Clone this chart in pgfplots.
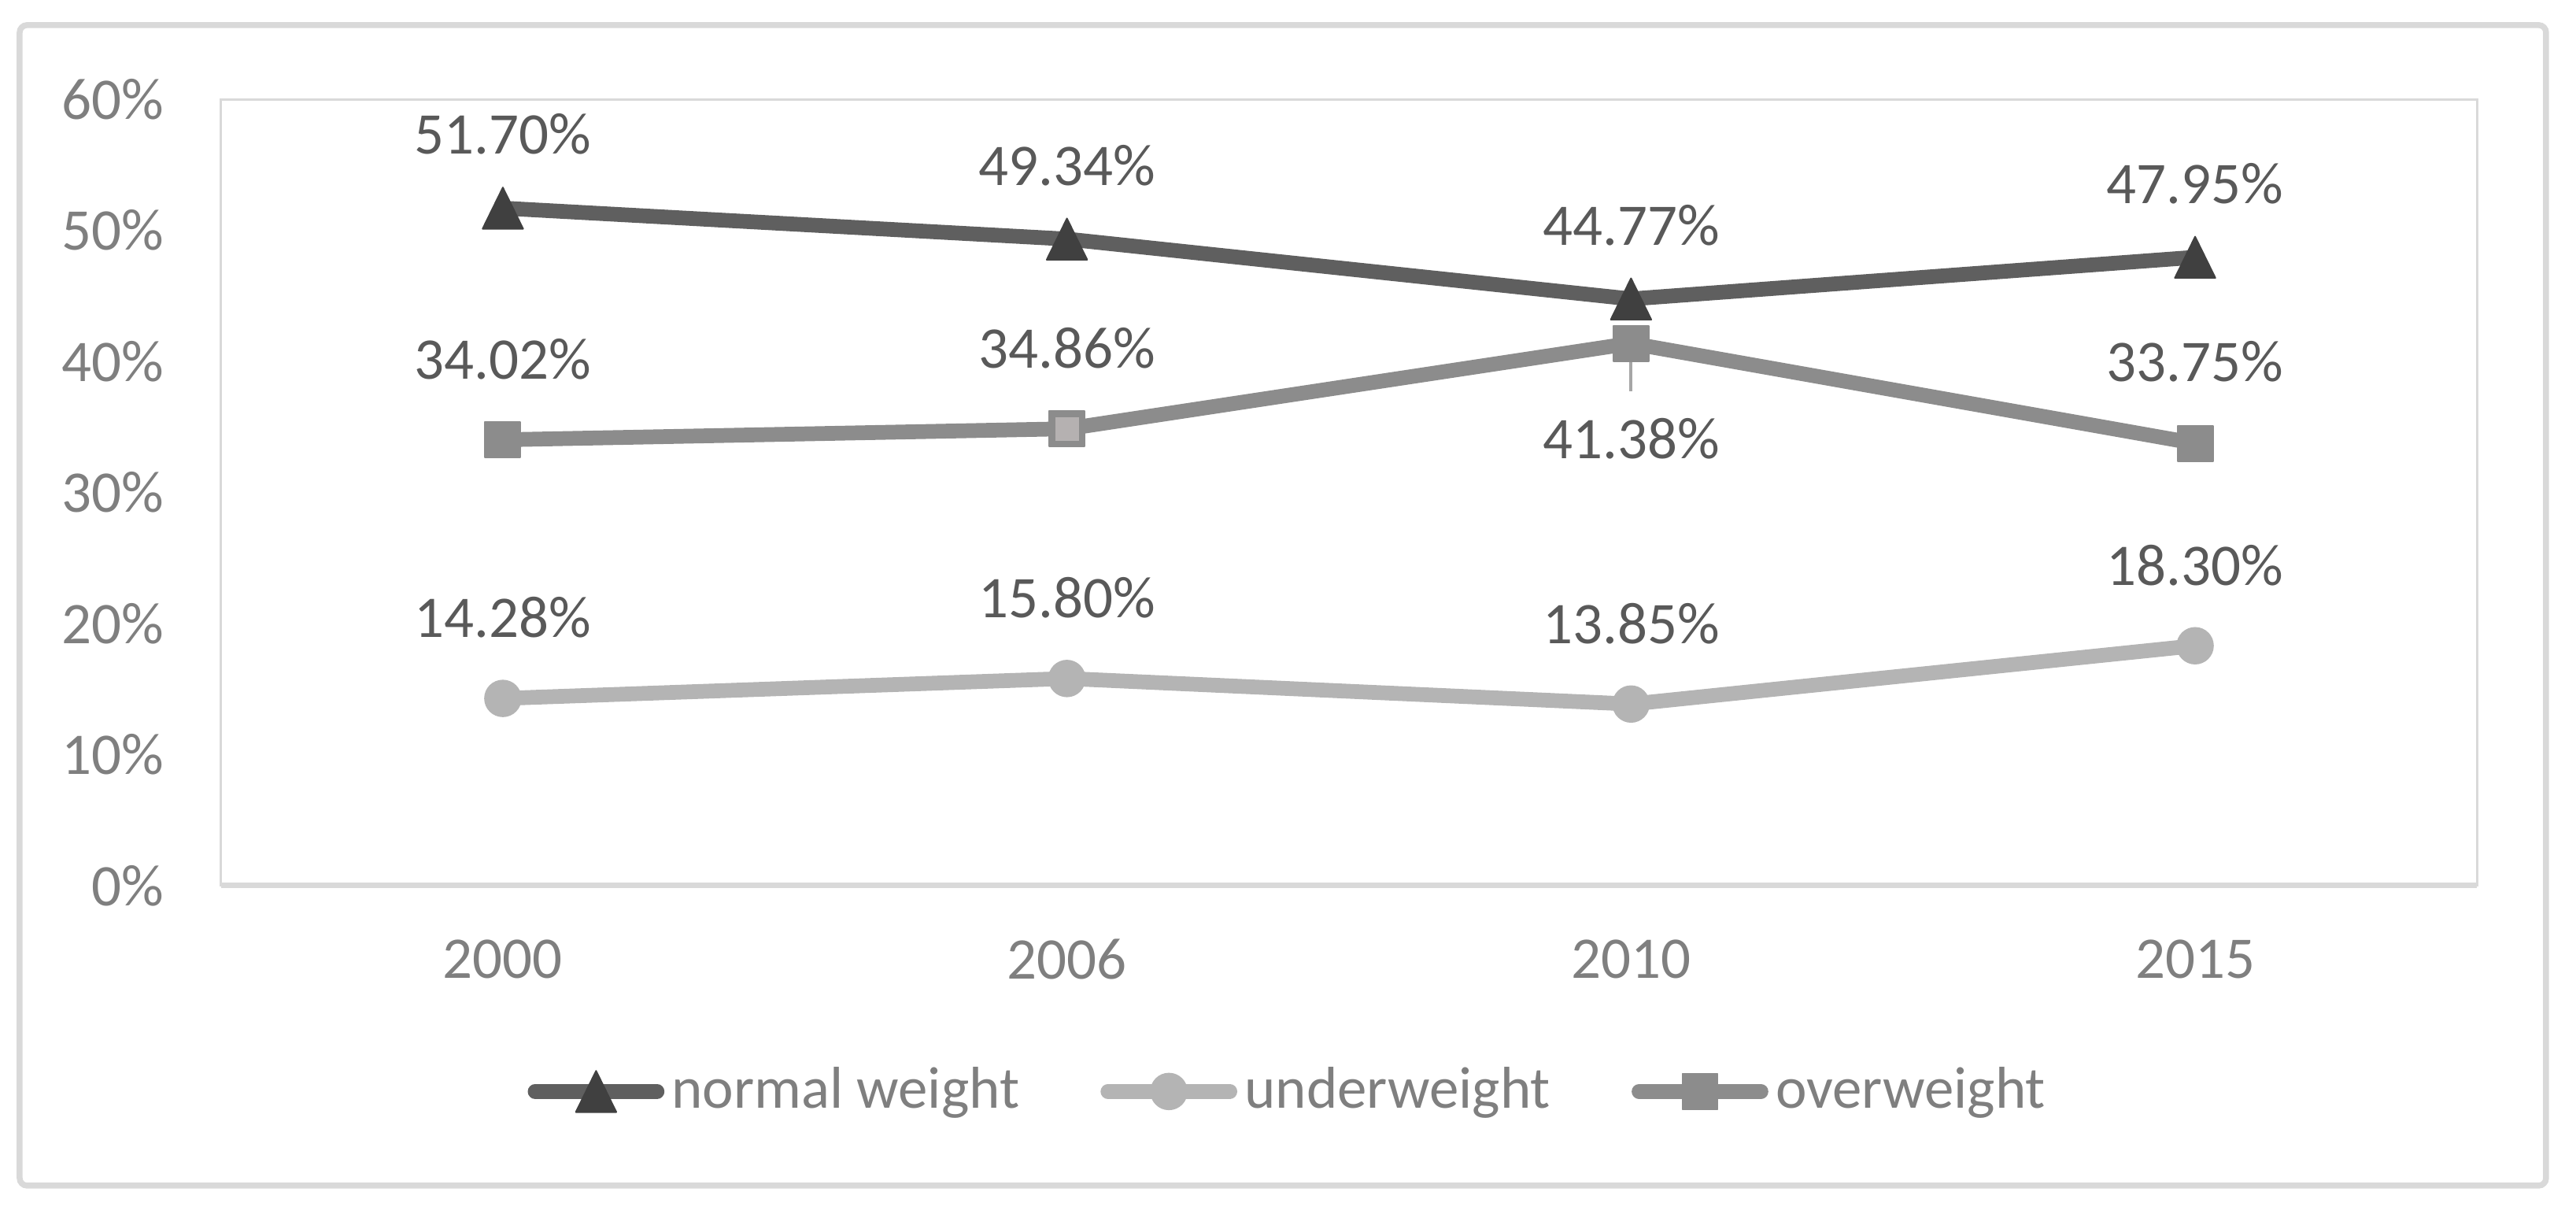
\documentclass[border=0pt]{standalone}
\usepackage{fontspec}
\setmainfont{Carlito}
\usepackage{pgfplots}
\usepackage{pgfplotstable}
\pgfplotsset{compat=1.18}

\definecolor{normc}{HTML}{5F5F5F}
\definecolor{normm}{HTML}{404040}
\definecolor{underc}{HTML}{B4B4B4}
\definecolor{overc}{HTML}{8C8C8C}
\definecolor{sqlight}{HTML}{B5B1B1}
\definecolor{lbl}{HTML}{595959}
\definecolor{tickc}{HTML}{7F7F7F}
\definecolor{frame}{HTML}{D9D9D9}
\definecolor{leader}{HTML}{A6A6A6}

% x = category index (2000, 2006, 2010, 2015), off = label shift in pt
\pgfplotstableread{
x y off
0 51.70 16.4
1 49.34 16.4
2 44.77 16.4
3 47.95 16.4
}\normaltab
\pgfplotstableread{
x y off
0 14.28 16.4
1 15.80 16.4
2 13.85 16.4
3 18.30 16.4
}\undertab
\pgfplotstableread{
x y off
0 34.02 16.4
1 34.86 16.4
2 41.38 -19.4
3 33.75 16.6
}\overtab

\pgfplotsset{
    /pgf/number format/assume math mode=true,
    labelled/.style={
        nodes near coords={\pgfmathprintnumber[fixed,fixed zerofill,precision=2]{\pgfplotspointmeta}\%},
        visualization depends on={\thisrow{off}\as\laboff},
        nodes near coords style={font=\fontsize{12}{14}\selectfont, text=lbl, anchor=center, yshift=\laboff pt},
    },
}

\begin{document}
\begin{tikzpicture}
\useasboundingbox (-44.9pt,-66.7pt) rectangle (478.9pt,180.0pt);
\draw[frame, line width=1.2pt, rounded corners=1.5pt] (-40.9pt,-61.0pt) rectangle (472.8pt,174.9pt);
\begin{axis}[
    at={(0pt,0pt)}, anchor=south west,
    scale only axis,
    width=458.8pt, height=159.8pt,
    xmin=-0.5, xmax=3.5,
    ymin=0, ymax=60,
    xtick={0,1,2,3},
    xticklabels={2000,2006,2010,2015},
    ytick={0,10,...,60},
    yticklabel={\pgfmathprintnumber{\tick}\%},
    major tick length=0pt,
    axis line style={frame, line width=0.5pt},
    clip=false,
    font=\fontsize{12}{14}\selectfont,
    tick label style={font=\fontsize{12}{14}\selectfont, text=tickc},
    yticklabel style={anchor=east, inner sep=0pt, xshift=-11.4pt},
    xticklabel style={anchor=center, yshift=-15pt},
    legend columns=3,
    legend style={at={(0.474,-0.262)}, anchor=center, draw=none, fill=none,
        font=\fontsize{12}{14}\selectfont, text=tickc,
        nodes={inner xsep=1.5pt},
        /tikz/every even column/.append style={column sep=15pt}},
    legend image code/.code={
        \draw[mark repeat=2, mark phase=2, #1] plot coordinates {(0pt,0pt) (12.4pt,0pt) (24.8pt,0pt)};
    },
]
\draw[frame, line width=1.1pt] (axis description cs:0,0) -- (axis description cs:1,0);

\addplot[normc, line width=3pt, line cap=round, line join=round, labelled,
    mark=triangle*, mark size=5.6pt,
    mark options={draw=normm, fill=normm, line width=0.3pt, xscale=0.85, yshift=-1.4pt}]
    table[x=x, y=y] {\normaltab};
\addlegendentry{normal weight}

\addplot[underc, line width=3pt, line cap=round, line join=round, labelled,
    mark=*, mark size=3.65pt,
    mark options={draw=underc, fill=underc, line width=0.3pt}]
    table[x=x, y=y] {\undertab};
\addlegendentry{underweight}

\addplot[overc, line width=3pt, line cap=round, line join=round, labelled,
    mark=square*, mark size=3.6pt,
    mark options={draw=overc, fill=overc, line width=0.3pt}]
    table[x=x, y=y] {\overtab};
\addlegendentry{overweight}

% lighter square at 2006
\addplot[only marks, forget plot, mark=square*, mark size=3.0pt,
    mark options={draw=overc, fill=sqlight, line width=1.2pt}]
    coordinates {(1,34.86)};

% leader line of the 41.38% label
\draw[leader, line width=0.6pt] (axis cs:2,41.0) -- (axis cs:2,37.7);
\end{axis}
\end{tikzpicture}
\end{document}
